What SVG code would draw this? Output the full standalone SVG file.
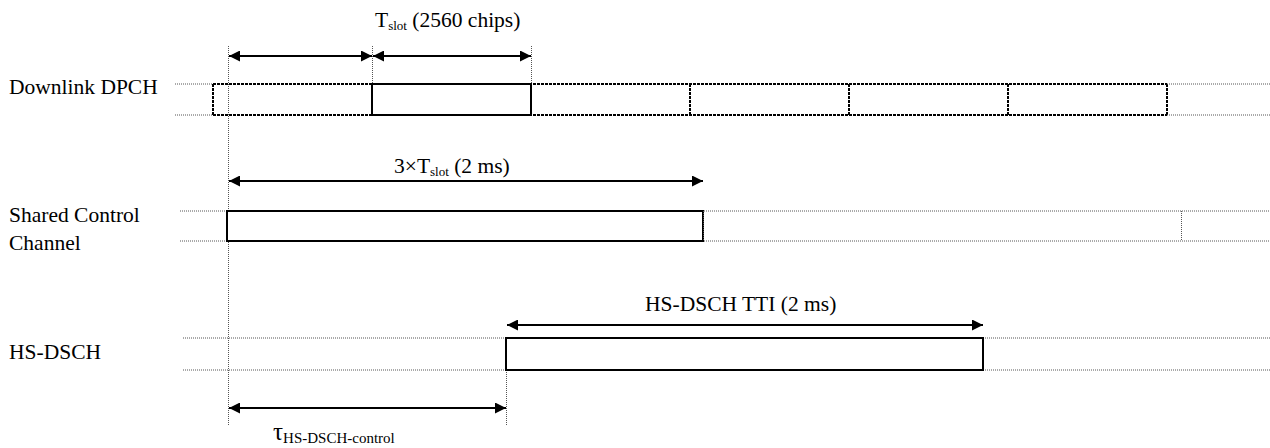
<svg xmlns="http://www.w3.org/2000/svg" width="1270" height="448" viewBox="0 0 1270 448">
<style>
text{font-family:"Liberation Serif","Times New Roman",serif;fill:#000;font-size:21.5px}
.sub{font-size:13px}
.faint{stroke:#555;stroke-width:1;stroke-dasharray:1,1;fill:none}
.heavy{stroke:#000;stroke-width:2;stroke-dasharray:3,1;fill:none}
.box{stroke:#000;stroke-width:2;fill:#fff}
.arr{stroke:#000;stroke-width:2;fill:none;marker-start:url(#ah);marker-end:url(#ah)}
</style>
<defs>
<marker id="ah" viewBox="0 0 10 10" refX="10" refY="5" markerWidth="7" markerHeight="5.5" orient="auto-start-reverse" markerUnits="strokeWidth"><path d="M0,0 L10,5 L0,10 z" fill="#000"/></marker>
</defs>
<g id="guides">
<line class="faint" x1="228.5" y1="46" x2="228.5" y2="426"/>
<line class="faint" x1="372.5" y1="46" x2="372.5" y2="84"/>
<line class="faint" x1="531.5" y1="46" x2="531.5" y2="84"/>
<line class="faint" x1="506.5" y1="370" x2="506.5" y2="426"/>
</g>
<g id="downlink-dpch">
<text x="9" y="94">Downlink DPCH</text>
<line class="faint" x1="175" y1="84" x2="213" y2="84"/>
<line class="faint" x1="175" y1="115" x2="213" y2="115"/>
<path class="heavy" d="M213,84 H1167 M213,115 H1167 M213,84 V115 M690,84 V115 M849,84 V115 M1008,84 V115 M1167,84 V115"/>
<line class="faint" x1="1167" y1="84" x2="1270" y2="84"/>
<line class="faint" x1="1167" y1="115" x2="1270" y2="115"/>
<rect class="box" x="372" y="84" width="159" height="31"/>
</g>
<g id="shared-control-channel">
<text x="9" y="222">Shared Control</text>
<text x="9" y="250">Channel</text>
<line class="faint" x1="180" y1="211" x2="1270" y2="211"/>
<line class="faint" x1="180" y1="241" x2="1270" y2="241"/>
<line class="faint" x1="1181.5" y1="211" x2="1181.5" y2="241"/>
<rect class="box" x="227" y="211" width="476" height="30"/>
<line class="faint" x1="703.5" y1="211" x2="703.5" y2="241"/>
</g>
<g id="hs-dsch">
<text x="9" y="359">HS-DSCH</text>
<line class="faint" x1="183" y1="338" x2="1270" y2="338"/>
<line class="faint" x1="183" y1="370" x2="1270" y2="370"/>
<rect class="box" x="506" y="338" width="477" height="32"/>
</g>
<g id="connectors">
<line class="arr" x1="229" y1="56" x2="372" y2="56"/>
<line class="arr" x1="373" y1="56" x2="531" y2="56"/>
<line class="arr" x1="229" y1="181" x2="703" y2="181"/>
<line class="arr" x1="507" y1="325" x2="983" y2="325"/>
<line class="arr" x1="229" y1="408" x2="506" y2="408"/>
</g>
<g id="labels">
<text x="375" y="27">T<tspan class="sub" dy="3">slot</tspan><tspan dy="-3"> (2560 chips)</tspan></text>
<text x="394" y="173">3×T<tspan class="sub" dy="3">slot</tspan><tspan dy="-3"> (2 ms)</tspan></text>
<text x="645" y="311">HS-DSCH TTI (2 ms)</text>
<text x="273" y="440"><tspan font-size="25">τ</tspan><tspan font-size="15" dy="3">HS-DSCH-control</tspan></text>
</g>
</svg>
